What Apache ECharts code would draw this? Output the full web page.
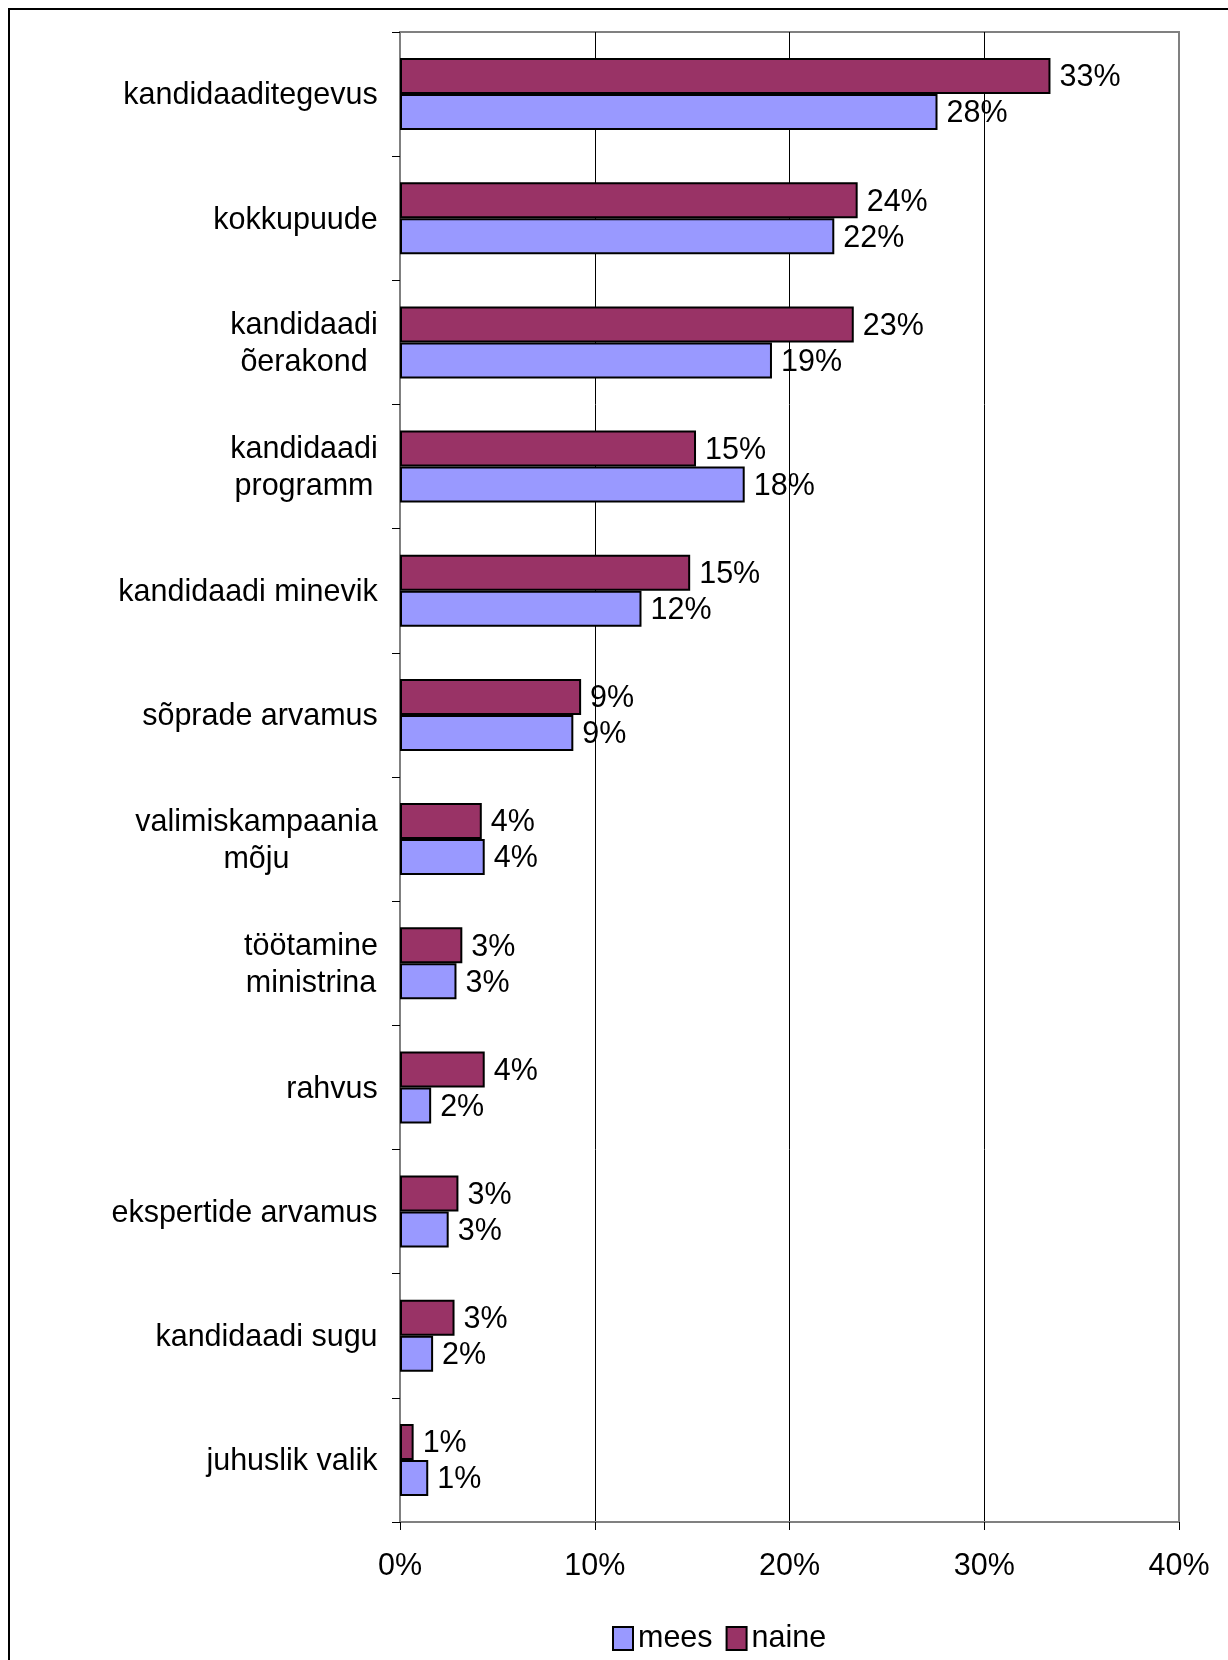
<!DOCTYPE html>
<html>
<head>
<meta charset="utf-8">
<script src="https://cdn.jsdelivr.net/npm/echarts@6/dist/echarts.min.js"></script>
<style>
html,body{margin:0;padding:0;background:#fff;}
#chart{width:1228px;height:1660px;}
</style>
</head>
<body>
<div id="chart"></div>
<script>
const categories = [
  'kandidaaditegevus',
  'kokkupuude',
  'kandidaadi\nõerakond',
  'kandidaadi\nprogramm',
  'kandidaadi minevik',
  'sõprade arvamus',
  'valimiskampaania\nmõju',
  'töötamine\nministrina',
  'rahvus',
  'ekspertide arvamus',
  'kandidaadi sugu',
  'juhuslik valik'
];
const naine = [33.4, 23.5, 23.3, 15.2, 14.9, 9.3, 4.2, 3.2, 4.35, 3.0, 2.8, 0.7];
const mees  = [27.6, 22.3, 19.1, 17.7, 12.4, 8.9, 4.35, 2.9, 1.6, 2.5, 1.7, 1.45];
const xTicks = [0, 10, 20, 30, 40];

const FONT = 'Liberation Sans, Arial, sans-serif';
const FS = 30.5;

// per-label rich styles so multi-line labels are centred line by line
const ctx = document.createElement('canvas').getContext('2d');
ctx.font = FS + 'px ' + FONT;
const rich = {};
categories.forEach((c, i) => {
  const w = Math.max(...c.split('\n').map(s => ctx.measureText(s).width));
  rich['r' + i] = { width: Math.ceil(w), align: 'center', fontSize: FS, fontFamily: FONT, color: '#000', lineHeight: 37 };
});

const chart = echarts.init(document.getElementById('chart'), null, { renderer: 'canvas' });
const labelOpt = {
  show: true,
  position: 'right',
  distance: 9,
  offset: [0, 2],
  fontSize: FS,
  fontFamily: FONT,
  color: '#000',
  formatter: p => Math.round(p.value) + '%'
};
chart.setOption({
  animation: false,
  backgroundColor: '#fff',
  graphic: [{
    type: 'rect',
    shape: { x: 9, y: 9, width: 1260, height: 1700 },
    style: { fill: 'none', stroke: '#000', lineWidth: 2 },
    silent: true, z: 0
  }],
  grid: {
    left: 400, right: 49, top: 32, bottom: 138,
    show: true, borderColor: '#808080', borderWidth: 2, backgroundColor: 'transparent'
  },
  legend: {
    data: ['mees', 'naine'],
    left: 607, top: 1618,
    itemWidth: 20, itemHeight: 23, itemGap: 13,
    textStyle: { fontSize: FS, fontFamily: FONT, color: '#000' },
    itemStyle: { borderColor: '#000', borderWidth: 2 },
    icon: 'rect'
  },
  xAxis: {
    type: 'value', min: 0, max: 40, interval: 10,
    axisLine: { show: true, lineStyle: { color: '#808080', width: 2 } },
    axisTick: { show: true, length: 8, lineStyle: { color: '#000', width: 1 } },
    axisLabel: { fontSize: FS, fontFamily: FONT, color: '#000', margin: 29, formatter: v => v + '%' },
    splitLine: { show: true, showMinLine: false, showMaxLine: false, lineStyle: { color: '#000', width: 1 } }
  },
  yAxis: {
    type: 'category', inverse: true, data: categories,
    axisLine: { show: true, lineStyle: { color: '#808080', width: 2 } },
    axisTick: { show: true, length: 8, lineStyle: { color: '#000', width: 1 } },
    axisLabel: {
      margin: 22,
      padding: [4, 0, 0, 0],
      formatter: (v, i) => v.split('\n').map(s => '{r' + i + '|' + s + '}').join('\n'),
      rich: rich
    }
  },
  series: [
    {
      name: 'naine', type: 'bar', data: naine,
      barGap: '0%', barCategoryGap: '42%',
      itemStyle: { color: '#993366', borderColor: '#000', borderWidth: 2 },
      label: labelOpt
    },
    {
      name: 'mees', type: 'bar', data: mees,
      barGap: '0%', barCategoryGap: '42%',
      itemStyle: { color: '#9999FF', borderColor: '#000', borderWidth: 2 },
      label: labelOpt
    }
  ]
});
</script>
</body>
</html>
